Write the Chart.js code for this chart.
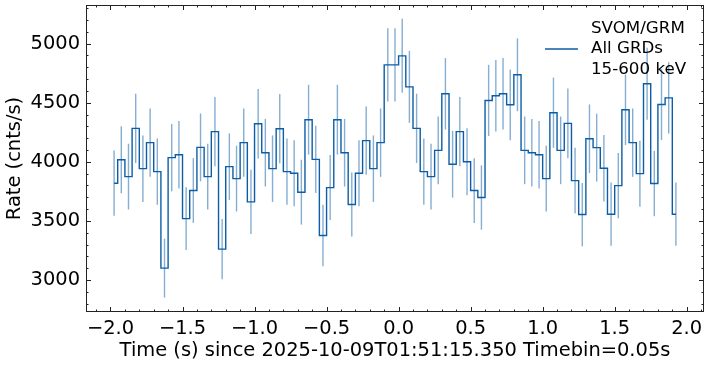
<!DOCTYPE html>
<html>
<head>
<meta charset="utf-8">
<script src="https://cdn.jsdelivr.net/npm/chart.js@4.4.0/dist/chart.umd.min.js"></script>
<style>
  html, body { margin: 0; padding: 0; background: #fff; }
  #wrap { width: 709px; height: 366px; }
</style>
</head>
<body>
<div id="wrap"><canvas id="lightCurve" width="709" height="366"></canvas></div>
<script>
// bin centres in seconds (Timebin = 0.05 s)
var binTimes = [
  -1.975, -1.925, -1.875, -1.825, -1.775, -1.725, -1.675, -1.625, -1.575, -1.525,
  -1.475, -1.425, -1.375, -1.325, -1.275, -1.225, -1.175, -1.125, -1.075, -1.025,
  -0.975, -0.925, -0.875, -0.825, -0.775, -0.725, -0.675, -0.625, -0.575, -0.525,
  -0.475, -0.425, -0.375, -0.325, -0.275, -0.225, -0.175, -0.125, -0.075, -0.025,
  0.025, 0.075, 0.125, 0.175, 0.225, 0.275, 0.325, 0.375, 0.425, 0.475,
  0.525, 0.575, 0.625, 0.675, 0.725, 0.775, 0.825, 0.875, 0.925, 0.975,
  1.025, 1.075, 1.125, 1.175, 1.225, 1.275, 1.325, 1.375, 1.425, 1.475,
  1.525, 1.575, 1.625, 1.675, 1.725, 1.775, 1.825, 1.875, 1.925
];

// count rate per bin (cnts/s)
var rates = [
  3819, 4018, 3875, 4283, 3942, 4162, 3917, 3101, 4035, 4060,
  3520, 3757, 4122, 3875, 4255, 3262, 3959, 3858, 4162, 3661,
  4322, 4077, 3942, 4280, 3917, 3903, 3743, 4356, 4021, 3377,
  3782, 4356, 4077, 3639, 3903, 4179, 3942, 4162, 4820, 4820,
  4896, 4634, 4283, 3917, 3875, 4097, 4575, 3979, 4255, 4001,
  3757, 3698, 4519, 4558, 4575, 4482, 4736, 4097, 4077, 4060,
  3858, 4415, 4097, 4325, 3841, 3554, 4195, 4120, 3945, 3557,
  3799, 4440, 4162, 3900, 4660, 3816, 4485, 4541, 3557
];

// 1-sigma error on each rate
var rateErrors = [
  276, 283, 278, 293, 281, 289, 280, 249, 284, 285,
  265, 274, 287, 278, 292, 255, 281, 278, 289, 271,
  294, 286, 281, 293, 280, 279, 274, 295, 284, 260,
  275, 295, 286, 270, 279, 289, 281, 289, 310, 310,
  313, 304, 293, 280, 278, 286, 302, 282, 292, 283,
  274, 272, 301, 302, 302, 299, 308, 286, 286, 285,
  278, 297, 286, 294, 277, 267, 290, 287, 281, 267,
  276, 298, 289, 279, 305, 276, 300, 301, 267
];

var xTickValues = [-2.0, -1.5, -1.0, -0.5, 0.0, 0.5, 1.0, 1.5, 2.0];
var yTickValues = [3000, 3500, 4000, 4500, 5000];

var legendLines = ['SVOM/GRM', 'All GRDs', '15-600 keV'];
var xTitle = 'Time (s) since 2025-10-09T01:51:15.350 Timebin=0.05s';
var yTitle = 'Rate (cnts/s)';

var lineColor = '#0C5DA5';
var errColor = 'rgba(12, 93, 165, 0.5)';

Chart.defaults.font.family = "'DejaVu Sans', sans-serif";
Chart.defaults.font.size = 19.44;
Chart.defaults.color = '#000';

// error bars behind the step line, then frame, inward ticks and legend on top
var sciencePlot = {
  id: 'sciencePlot',
  beforeDatasetsDraw: function(chart) {
    var ctx = chart.ctx, xs = chart.scales.x, ys = chart.scales.y;
    ctx.save();
    ctx.strokeStyle = errColor;
    ctx.lineWidth = 1.4;
    rates.forEach(function(r, i) {
      var px = xs.getPixelForValue(binTimes[i]);
      ctx.beginPath();
      ctx.moveTo(px, ys.getPixelForValue(r - rateErrors[i]));
      ctx.lineTo(px, ys.getPixelForValue(r + rateErrors[i]));
      ctx.stroke();
    });
    ctx.restore();
  },
  afterDraw: function(chart) {
    var ctx = chart.ctx, a = chart.chartArea;
    var xs = chart.scales.x, ys = chart.scales.y;
    ctx.save();
    ctx.strokeStyle = '#222';
    ctx.lineWidth = 1;
    ctx.strokeRect(Math.round(a.left) + 0.5, Math.round(a.top) + 0.5,
      Math.round(a.right - a.left) - 1, Math.round(a.bottom - a.top) - 1);

    function xTick(v, len) {
      var px = Math.round(xs.getPixelForValue(v)) + 0.5;
      ctx.beginPath();
      ctx.moveTo(px, a.bottom); ctx.lineTo(px, a.bottom - len);
      ctx.moveTo(px, a.top); ctx.lineTo(px, a.top + len);
      ctx.stroke();
    }
    function yTick(v, len) {
      var py = Math.round(ys.getPixelForValue(v)) + 0.5;
      ctx.beginPath();
      ctx.moveTo(a.left, py); ctx.lineTo(a.left + len, py);
      ctx.moveTo(a.right, py); ctx.lineTo(a.right - len, py);
      ctx.stroke();
    }
    var k, v;
    // minor ticks every 0.1 s and 100 cnts/s, majors on the tick lists
    for (k = Math.ceil(xs.min * 10); k <= Math.floor(xs.max * 10); k++) {
      xTick(k / 10, k % 5 === 0 ? 5 : 2.5);
    }
    for (k = Math.ceil(ys.min / 100); k <= Math.floor(ys.max / 100); k++) {
      v = k * 100;
      yTick(v, v % 500 === 0 ? 5 : 2.5);
    }

    // legend
    var lx = a.right - 113, ly = a.top + 44;
    ctx.strokeStyle = lineColor;
    ctx.lineWidth = 1.4;
    ctx.beginPath();
    ctx.moveTo(a.right - 159, ly);
    ctx.lineTo(a.right - 126, ly);
    ctx.stroke();
    ctx.fillStyle = '#000';
    ctx.font = "16.7px 'DejaVu Sans', sans-serif";
    ctx.textBaseline = 'middle';
    ctx.textAlign = 'left';
    legendLines.forEach(function(t, i) {
      ctx.fillText(t, lx, ly + (i - 1) * 20.3);
    });
    ctx.restore();
  }
};

var points = binTimes.map(function(t, i) { return { x: t, y: rates[i] }; });

new Chart(document.getElementById('lightCurve'), {
  type: 'line',
  data: {
    datasets: [{
      label: legendLines.join(' '),
      data: points,
      stepped: 'middle',
      borderColor: lineColor,
      borderWidth: 1.4,
      pointRadius: 0,
      fill: false
    }]
  },
  options: {
    responsive: false,
    animation: false,
    layout: { padding: { top: 5, right: 5, left: 0, bottom: 0 } },
    plugins: { legend: { display: false }, tooltip: { enabled: false } },
    scales: {
      x: {
        type: 'linear',
        min: -2.17,
        max: 2.12,
        grid: { display: false, drawTicks: false },
        border: { display: false },
        afterBuildTicks: function(s) {
          s.ticks = xTickValues.map(function(v) { return { value: v }; });
        },
        ticks: {
          autoSkip: false,
          maxRotation: 0,
          padding: 5,
          callback: function(v) {
            if (Math.abs(v) < 1e-9) return '0.0';
            return v.toFixed(1).replace('-', '\u2212');
          }
        },
        title: { display: true, text: xTitle, padding: { top: 0, bottom: 3 } },
        afterFit: function(s) {
          s.height = 54;
          s.paddingLeft = 0;
          s.paddingRight = 0;
        }
      },
      y: {
        type: 'linear',
        min: 2730,
        max: 5326,
        grid: { display: false, drawTicks: false },
        border: { display: false },
        afterBuildTicks: function(s) {
          s.ticks = yTickValues.map(function(v) { return { value: v }; });
        },
        ticks: {
          autoSkip: false,
          padding: 6,
          callback: function(v) { return String(v); }
        },
        title: { display: true, text: yTitle, padding: { top: 3, bottom: 0 } },
        afterFit: function(s) {
          s.width = 86;
          s.paddingTop = 0;
          s.paddingBottom = 0;
        }
      }
    }
  },
  plugins: [sciencePlot]
});
</script>
</body>
</html>
